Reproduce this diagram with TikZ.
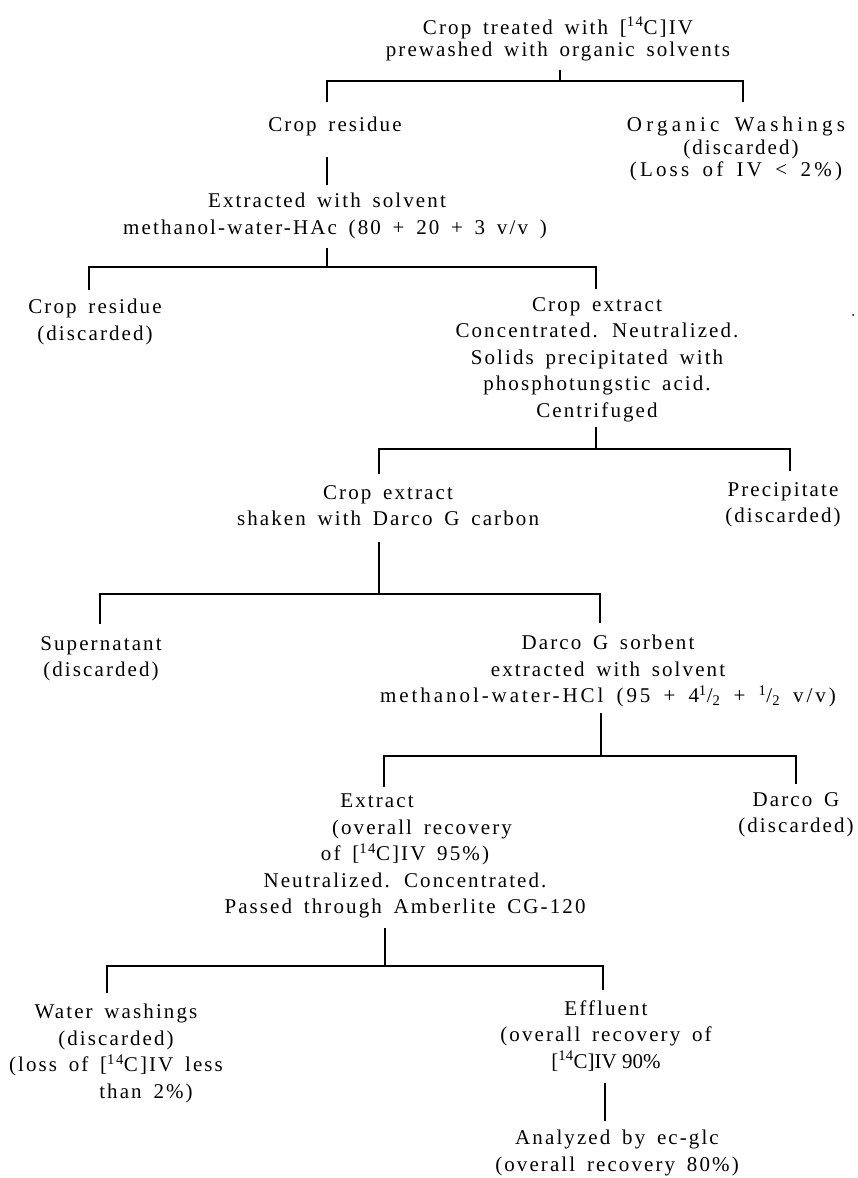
\documentclass[tikz,border=0pt]{standalone}
\usepackage{fontspec}
\setmainfont{Liberation Serif}[LetterSpace=10, WordSpace=1.6]
\newfontfamily\plainserif{Liberation Serif}
\begin{document}
\begin{tikzpicture}[x=1pt,y=-1pt,
  blk/.style={align=center, inner sep=0pt, anchor=north, font=\fontsize{21}{26.5}\selectfont},
  tight/.style={font=\fontsize{21}{22.5}\selectfont},
  ln/.style={line width=1.3pt, line cap=butt, line join=miter}]
\useasboundingbox (0,0) rectangle (858,1178);
\fill[white] (0,0) rectangle (858,1178);

% ---- nodes ----
\node[blk,tight] (T1) at (558,17) {Crop treated with [\textsuperscript{14}C]IV\\prewashed with organic solvents};
\node[blk] (CR) at (335,117) {Crop residue};
\node[blk,tight] (OW) at (736,117) {{\addfontfeature{LetterSpace=20}Organic Washings}\\\hbox{\kern10pt(discarded)}\\{\addfontfeature{LetterSpace=15}(Loss of IV < 2\%)}};
\node[blk] (EX) at (335,193) {\hbox{Extracted with solvent\kern16pt}\\methanol-water-HAc (80 + 20 + 3 v/v )};
\node[blk] (CR2) at (95,299) {Crop residue\\(discarded)};
\node[blk] (CE) at (597,297) {Crop extract\\Concentrated. Neutralized.\\Solids precipitated with\\phosphotungstic acid.\\Centrifuged};
\node[blk] (CE2) at (388,485) {Crop extract\\shaken with Darco G carbon};
\node[blk] (PR) at (783,482) {Precipitate\\(discarded)};
\node[blk] (SU) at (101,636) {Supernatant\\(discarded)};
\node[blk] (DS) at (608,635) {Darco G sorbent\\extracted with solvent\\{\addfontfeature{LetterSpace=14}methanol-water-HCl (95 + 4\textsuperscript{1}/\textsubscript{2} + \textsuperscript{1}/\textsubscript{2} v/v)}};
\node[blk] (EXT) at (405,794) {\hbox{Extract\kern56pt}\\\hbox{\kern34pt(overall recovery}\\of [\textsuperscript{14}C]IV 95\%)\\Neutralized. Concentrated.\\Passed through Amberlite CG-120};
\node[blk] (DG) at (796,792) {Darco G\\(discarded)};
\node[blk] (WW) at (116,1004) {Water washings\\(discarded)\\(loss of [\textsuperscript{14}C]IV less\\\hbox{\kern60pt than 2\%)}};
\node[blk] (EF) at (606,1000) {Effluent\\(overall recovery of\\{\plainserif [\textsuperscript{14}C]IV 90\%}};
\node[blk] (AN) at (617,1130) {Analyzed by ec-glc\\(overall recovery 80\%)};
\node[circle, fill=black, inner sep=0pt, minimum size=2pt] (dot) at (853,315) {};

% ---- junction coordinates ----
\coordinate (a0) at (560,70);  \coordinate (a1) at (560,81);
\coordinate (a2) at (327,102); \coordinate (a3) at (743,102);
\coordinate (b0) at (327,157); \coordinate (b1) at (327,185);
\coordinate (c0) at (327,248); \coordinate (c1) at (327,267);
\coordinate (c2) at (89,290);  \coordinate (c3) at (596,289);
\coordinate (d0) at (596,427); \coordinate (d1) at (596,449);
\coordinate (d2) at (379,474); \coordinate (d3) at (790,471);
\coordinate (e0) at (379,542); \coordinate (e1) at (379,594);
\coordinate (e2) at (100,624); \coordinate (e3) at (600,623);
\coordinate (f0) at (601,713); \coordinate (f1) at (601,756);
\coordinate (f2) at (384,787); \coordinate (f3) at (796,784);
\coordinate (g0) at (385,928); \coordinate (g1) at (385,966);
\coordinate (g2) at (107,993); \coordinate (g3) at (603,990);
\coordinate (h0) at (605,1083); \coordinate (h1) at (605,1121);

% ---- connectors ----
\draw[ln] (a0) -- (a1);
\draw[ln] (a2) |- (a1) -| (a3);
\draw[ln] (b0) -- (b1);
\draw[ln] (c0) -- (c1);
\draw[ln] (c2) |- (c1) -| (c3);
\draw[ln] (d0) -- (d1);
\draw[ln] (d2) |- (d1) -| (d3);
\draw[ln] (e0) -- (e1);
\draw[ln] (e2) |- (e1) -| (e3);
\draw[ln] (f0) -- (f1);
\draw[ln] (f2) |- (f1) -| (f3);
\draw[ln] (g0) -- (g1);
\draw[ln] (g2) |- (g1) -| (g3);
\draw[ln] (h0) -- (h1);
\end{tikzpicture}
\end{document}
